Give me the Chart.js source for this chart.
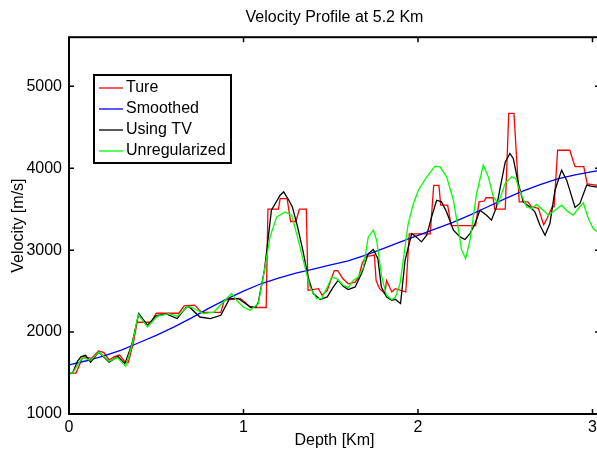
<!DOCTYPE html>
<html>
<head>
<meta charset="utf-8">
<script src="https://cdn.jsdelivr.net/npm/chart.js@4/dist/chart.umd.min.js"></script>
<style>
html,body{margin:0;padding:0;background:#fff;overflow:hidden}
</style>
</head>
<body>
<canvas id="c" width="672" height="450"></canvas>
<script>
const xTicks = [0, 1, 2, 3]
const yTicks = [1000, 2000, 3000, 4000, 5000]

// Ture (blocky true model)
const depthTrue = [0.00,0.04,0.08,0.13,0.17,0.20,0.23,0.26,0.29,0.32,0.34,0.37,0.39,0.47,0.50,0.63,0.66,0.72,0.76,0.87,0.89,0.98,1.01,1.04,1.13,1.14,1.20,1.21,1.25,1.27,1.30,1.32,1.36,1.37,1.43,1.45,1.48,1.52,1.54,1.57,1.60,1.64,1.66,1.68,1.70,1.75,1.76,1.78,1.81,1.82,1.85,1.87,1.93,1.95,2.07,2.09,2.12,2.13,2.17,2.19,2.33,2.35,2.38,2.39,2.43,2.44,2.50,2.52,2.55,2.58,2.63,2.65,2.69,2.72,2.74,2.77,2.78,2.80,2.87,2.90,2.95,2.97,3.03]
const velTrue = [1500,1500,1700,1680,1770,1750,1660,1700,1720,1640,1630,1880,2120,2120,2230,2230,2320,2330,2240,2240,2390,2410,2360,2300,2300,3500,3500,3630,3630,3350,3350,3500,3500,2510,2530,2450,2510,2750,2750,2650,2590,2610,2670,2840,2920,2940,2630,2530,2470,2630,2490,2530,2490,3200,3200,3790,3790,3550,3550,3300,3300,3590,3600,3640,3640,3500,3500,4670,4670,3590,3590,3530,3510,3310,3390,3530,3530,4220,4220,4020,4020,3810,3790]

// Smoothed
const depthSmooth = [0.0,0.1,0.2,0.3,0.4,0.5,0.6,0.7,0.8,0.9,1.0,1.1,1.2,1.3,1.4,1.5,1.6,1.7,1.8,1.9,2.0,2.1,2.2,2.3,2.4,2.5,2.6,2.7,2.8,2.9,3.0,3.05]
const velSmooth = [1600,1650,1710,1780,1870,1960,2060,2170,2290,2400,2500,2590,2660,2720,2770,2820,2870,2940,3020,3100,3180,3260,3340,3430,3530,3630,3720,3800,3870,3920,3960,3975]

// Using TV
const depthTV = [0.00,0.02,0.05,0.07,0.095,0.124,0.17,0.23,0.28,0.32,0.36,0.40,0.45,0.50,0.56,0.62,0.67,0.69,0.75,0.81,0.87,0.92,0.97,1.04,1.07,1.085,1.12,1.16,1.21,1.23,1.26,1.28,1.31,1.34,1.37,1.40,1.44,1.48,1.515,1.543,1.572,1.60,1.64,1.68,1.715,1.744,1.77,1.79,1.82,1.85,1.87,1.90,1.926,1.964,1.99,2.02,2.05,2.078,2.107,2.135,2.164,2.203,2.241,2.269,2.298,2.327,2.355,2.393,2.421,2.45,2.47,2.50,2.527,2.546,2.575,2.603,2.642,2.67,2.699,2.728,2.756,2.785,2.823,2.852,2.90,2.928,2.967,2.99,3.03]
const velTV = [1490,1500,1650,1700,1716,1634,1757,1634,1704,1615,1850,2226,2083,2200,2220,2165,2300,2306,2184,2164,2205,2409,2409,2306,2306,2368,2755,3488,3671,3712,3610,3528,3284,3000,2673,2470,2397,2429,2551,2633,2559,2519,2551,2734,2959,3008,2898,2551,2429,2388,2400,2348,2877,3203,3162,3101,3183,3406,3610,3590,3467,3244,3162,3130,3203,3325,3488,3427,3366,3528,3750,4078,4181,4120,3814,3589,3528,3467,3305,3183,3325,3732,3977,3855,3521,3570,3794,3781,3770]

// Unregularized
const depthUnreg = [0.00,0.02,0.076,0.124,0.172,0.229,0.277,0.325,0.363,0.397,0.449,0.506,0.573,0.621,0.678,0.70,0.77,0.83,0.884,0.932,0.96,0.999,1.037,1.085,1.12,1.152,1.19,1.238,1.276,1.314,1.352,1.381,1.419,1.448,1.485,1.505,1.534,1.572,1.60,1.63,1.658,1.687,1.715,1.744,1.763,1.792,1.82,1.849,1.87,1.897,1.944,1.974,2.002,2.05,2.098,2.126,2.164,2.203,2.232,2.25,2.273,2.298,2.336,2.374,2.403,2.432,2.46,2.499,2.537,2.56,2.585,2.623,2.652,2.68,2.718,2.747,2.785,2.823,2.861,2.89,2.919,2.947,2.976,3.004,3.03]
const velUnreg = [1500,1500,1688,1655,1757,1643,1688,1582,1859,2213,2062,2193,2226,2193,2307,2306,2225,2245,2368,2470,2388,2306,2266,2348,2755,3162,3406,3467,3427,3122,2795,2551,2409,2409,2572,2673,2653,2572,2543,2633,2673,2795,3162,3244,3122,2673,2449,2397,2420,2592,3325,3570,3732,3895,4026,4017,3895,3610,3244,3000,2898,3122,3692,4038,3895,3651,3570,3814,3895,3875,3712,3528,3509,3558,3488,3427,3488,3549,3467,3427,3509,3577,3386,3264,3223]

const pts = (xs, ys) => xs.map((x, i) => ({x: x, y: ys[i]}))
const font = {family: "'Liberation Sans', Arial, Helvetica, sans-serif", size: 16}

// box, inward ticks and legend like the original figure
const boxPlugin = {
    id: 'box',
    afterDraw(chart) {
        const ctx = chart.ctx
        const a = chart.chartArea
        const xs = chart.scales.x, ys = chart.scales.y
        ctx.save()
        ctx.strokeStyle = '#000'
        ctx.lineWidth = 2
        ctx.strokeRect(a.left, a.top, a.right - a.left, a.bottom - a.top)
        ctx.lineWidth = 1.5
        ctx.beginPath()
        for (const t of xTicks) {
            const px = xs.getPixelForValue(t)
            ctx.moveTo(px, a.bottom); ctx.lineTo(px, a.bottom - 5)
            ctx.moveTo(px, a.top); ctx.lineTo(px, a.top + 5)
        }
        for (const t of yTicks) {
            const py = ys.getPixelForValue(t)
            ctx.moveTo(a.left, py); ctx.lineTo(a.left + 5, py)
            ctx.moveTo(a.right, py); ctx.lineTo(a.right - 5, py)
        }
        ctx.stroke()

        // legend
        ctx.fillStyle = '#fff'
        ctx.fillRect(94, 75, 137, 88)
        ctx.lineWidth = 2
        ctx.strokeRect(94, 75, 137, 88)
        ctx.font = font.size + 'px ' + font.family
        ctx.textBaseline = 'middle'
        chart.data.datasets.forEach((ds, i) => {
            const y = 88 + i * 21
            ctx.strokeStyle = ds.borderColor
            ctx.lineWidth = 1.3
            ctx.beginPath()
            ctx.moveTo(99, y); ctx.lineTo(123, y)
            ctx.stroke()
            ctx.fillStyle = '#000'
            ctx.fillText(ds.label, 126, y)
        })
        ctx.restore()
    }
}

new Chart(document.getElementById('c'), {
    type: 'line',
    data: {
        datasets: [
            {label: 'Ture', data: pts(depthTrue, velTrue), borderColor: '#ff0000', order: 4},
            {label: 'Smoothed', data: pts(depthSmooth, velSmooth), borderColor: '#0000ff', order: 3},
            {label: 'Using TV', data: pts(depthTV, velTV), borderColor: '#000000', order: 2},
            {label: 'Unregularized', data: pts(depthUnreg, velUnreg), borderColor: '#00ff00', order: 1}
        ]
    },
    options: {
        responsive: false,
        animation: false,
        devicePixelRatio: 1,
        elements: {
            line: {borderWidth: 1.3, tension: 0, fill: false},
            point: {radius: 0}
        },
        layout: {padding: {left: 0, right: 72, top: 0, bottom: 0}},
        plugins: {
            legend: {display: false},
            tooltip: {enabled: false},
            title: {
                display: true,
                fullSize: false,
                text: 'Velocity Profile at 5.2 Km',
                color: '#000',
                font: {family: font.family, size: 16, weight: 'normal'},
                padding: {top: 8, bottom: 10}
            }
        },
        scales: {
            x: {
                type: 'linear',
                min: 0,
                max: 3.043,
                grid: {display: false, drawTicks: false},
                border: {display: false},
                afterBuildTicks: s => { s.ticks = xTicks.map(v => ({value: v})) },
                afterFit: s => { s.height = 36 },
                ticks: {color: '#000', font: font, padding: 4, maxRotation: 0, callback: v => String(v)},
                title: {display: true, text: 'Depth [Km]', color: '#000', font: font, padding: {top: 0, bottom: 0}}
            },
            y: {
                type: 'linear',
                min: 1000,
                max: 5600,
                grid: {display: false, drawTicks: false},
                border: {display: false},
                afterBuildTicks: s => { s.ticks = yTicks.map(v => ({value: v})) },
                afterFit: s => { s.width = 69 },
                ticks: {color: '#000', font: font, padding: 7, callback: v => String(v)},
                title: {display: true, text: 'Velocity [m/s]', color: '#000', font: font, padding: {top: 9, bottom: 0}}
            }
        }
    },
    plugins: [boxPlugin]
})
</script>
</body>
</html>
